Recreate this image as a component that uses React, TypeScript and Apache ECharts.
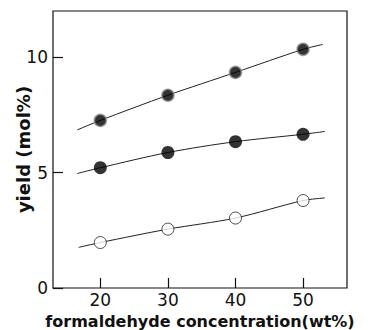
import React, { useEffect, useRef } from "react";
import * as echarts from "echarts";

// Formaldehyde concentration (wt%) at which yields were measured
const concentrations = [20, 30, 40, 50];

// Measured yields (mol%)
const yieldTotal = [7.26, 8.35, 9.34, 10.34];
const yieldFilled = [5.21, 5.87, 6.34, 6.66];
const yieldOpen = [1.97, 2.55, 3.03, 3.79];

// Hand-drawn trend curves: [concentration, yield]
const curveTotal: [number, number][] = [
  [16.6, 6.85], [20, 7.26], [30, 8.35], [40, 9.34], [50, 10.34], [52.9, 10.55],
];
const curveFilled: [number, number][] = [
  [16.6, 4.96], [20, 5.21], [30, 5.87], [40, 6.34], [50, 6.66], [53.2, 6.78],
];
const curveOpen: [number, number][] = [
  [16.8, 1.76], [20, 1.97], [30, 2.55], [40, 3.03], [50, 3.79], [53.2, 3.9],
];

const xTicks = [20, 30, 40, 50];
const yTicks = [0, 5, 10];

const FONT = "DejaVu Sans";

export default function App() {
  const ref = useRef<HTMLDivElement>(null);

  useEffect(() => {
    document.body.style.margin = "0";
    if (!ref.current) return;
    const chart = echarts.init(ref.current, null, { renderer: "svg" });

    const pts = (ys: number[]) => concentrations.map((x, i) => [x, ys[i]]);
    const curve = (data: [number, number][]) => ({
      type: "line",
      data,
      smooth: 0.3,
      showSymbol: false,
      symbol: "none",
      lineStyle: { color: "#222", width: 1 },
      z: 1,
      silent: true,
    });

    chart.setOption({
      animation: false,
      backgroundColor: "#fff",
      grid: {
        left: 53,
        right: 32,
        top: 11,
        bottom: 42,
        outerBoundsMode: "none",
        containLabel: false,
        show: true,
        borderColor: "#111",
        borderWidth: 1.2,
        backgroundColor: "transparent",
      },
      xAxis: {
        type: "value",
        min: 13,
        max: 56.5,
        name: "formaldehyde concentration(wt%)",
        nameLocation: "middle",
        nameGap: 25,
        nameMoveOverlap: false,
        nameTextStyle: {
          fontFamily: FONT,
          fontSize: 16,
          fontWeight: "bold",
          color: "#111",
        },
        axisLine: { show: false },
        splitLine: { show: false },
        axisTick: {
          inside: true,
          length: 10,
          customValues: xTicks,
          lineStyle: { color: "#111", width: 1.2 },
        },
        axisLabel: {
          customValues: xTicks,
          fontFamily: FONT,
          fontSize: 17,
          color: "#111",
          margin: 3,
        },
      },
      yAxis: {
        type: "value",
        min: 0,
        max: 12,
        name: "yield (mol%)",
        nameLocation: "middle",
        nameGap: 21,
        nameMoveOverlap: false,
        nameRotate: 90,
        nameTextStyle: {
          fontFamily: FONT,
          fontSize: 18,
          fontWeight: "bold",
          color: "#111",
        },
        axisLine: { show: false },
        splitLine: { show: false },
        axisTick: {
          inside: true,
          length: 10,
          customValues: yTicks,
          lineStyle: { color: "#111", width: 1.2 },
        },
        axisLabel: {
          customValues: yTicks,
          fontFamily: FONT,
          fontSize: 17,
          color: "#111",
          margin: 5,
        },
      },
      series: [
        curve(curveTotal),
        curve(curveFilled),
        curve(curveOpen),
        {
          type: "scatter",
          data: pts(yieldTotal),
          symbol: "circle",
          symbolSize: 12,
          itemStyle: { color: "#000", borderColor: "#8a8a8a", borderWidth: 1.5 },
          z: 3,
        },
        {
          type: "scatter",
          data: pts(yieldFilled),
          symbol: "circle",
          symbolSize: 13,
          itemStyle: { color: "#000" },
          z: 3,
        },
        {
          type: "scatter",
          data: pts(yieldOpen),
          symbol: "circle",
          symbolSize: 12,
          itemStyle: { color: "#fff", borderColor: "#222", borderWidth: 1 },
          z: 3,
        },
      ],
    });

    return () => chart.dispose();
  }, []);

  return <div ref={ref} style={{ width: 379, height: 330 }} />;
}
